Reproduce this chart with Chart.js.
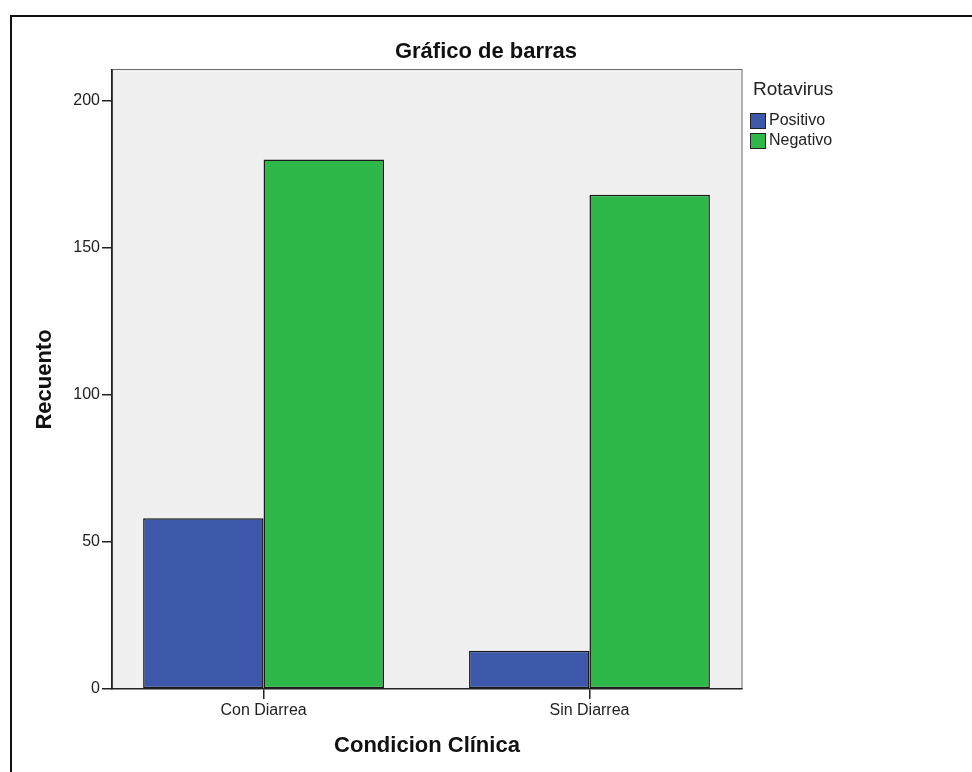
<!DOCTYPE html>
<html>
<head>
<meta charset="utf-8">
<script src="https://cdn.jsdelivr.net/npm/chart.js@4"></script>
<style>
  html, body { margin: 0; padding: 0; background: #fff; }
  canvas { display: block; }
</style>
</head>
<body>
<canvas id="chart" width="972" height="772"></canvas>
<script>
const categories = ['Con Diarrea', 'Sin Diarrea'];
const positivo = [58, 13];
const negativo = [180, 168];
const yTicks = [0, 50, 100, 150, 200];
const legendTitle = 'Rotavirus';

const FONT = "'Liberation Sans', Arial, sans-serif";
Chart.defaults.font.family = FONT;
Chart.defaults.color = '#222';

// grey plot area + the outer frame of the picture
const chartBackground = {
  id: 'chartBackground',
  beforeDraw(chart) {
    const {ctx, chartArea: a} = chart;
    ctx.save();
    ctx.fillStyle = '#fff';
    ctx.fillRect(0, 0, chart.width, chart.height);
    ctx.lineWidth = 2;
    ctx.strokeStyle = '#111';
    ctx.strokeRect(11, 16, chart.width + 20, chart.height + 20);
    ctx.fillStyle = '#f0f0f0';
    ctx.fillRect(a.left, a.top, a.width, a.height);
    ctx.strokeStyle = '#6a6a6a';
    ctx.lineWidth = 1;
    ctx.strokeRect(a.left + 0.5, a.top - 0.5, a.width - 0.5, a.height);
    ctx.restore();
  }
};

// legend in the right margin, like the SPSS one
const sideLegend = {
  id: 'sideLegend',
  afterDraw(chart) {
    const {ctx, chartArea: a} = chart;
    ctx.save();
    ctx.textBaseline = 'middle';
    ctx.fillStyle = '#222';
    ctx.font = `19px ${FONT}`;
    ctx.fillText(legendTitle, a.right + 11, a.top + 20);
    chart.data.datasets.forEach((ds, i) => {
      const y = a.top + 43 + i * 20;
      ctx.fillStyle = ds.backgroundColor;
      ctx.fillRect(a.right + 8, y, 16, 16);
      ctx.strokeStyle = '#222';
      ctx.lineWidth = 1;
      ctx.strokeRect(a.right + 8.5, y + 0.5, 15, 15);
      ctx.fillStyle = '#222';
      ctx.font = `16px ${FONT}`;
      ctx.fillText(ds.label, a.right + 27, y + 8);
    });
    ctx.restore();
  }
};

const data = {
  datasets: [{
    label: 'Positivo',
    data: categories.map((c, i) => ({x: i, y: positivo[i]})),
    backgroundColor: '#3d57aa',
    borderColor: '#1a1a1a',
    borderWidth: 1.5,
    borderSkipped: false,
    categoryPercentage: 0.739,
    barPercentage: 1
  }, {
    label: 'Negativo',
    data: categories.map((c, i) => ({x: i, y: negativo[i]})),
    backgroundColor: '#2eb84a',
    borderColor: '#1a1a1a',
    borderWidth: 1.5,
    borderSkipped: false,
    categoryPercentage: 0.739,
    barPercentage: 1
  }]
};

new Chart(document.getElementById('chart'), {
  type: 'bar',
  data: data,
  plugins: [chartBackground, sideLegend],
  options: {
    responsive: false,
    animation: false,
    layout: { padding: 0 },
    plugins: {
      legend: { display: false },
      tooltip: { enabled: false },
      title: {
        display: true,
        text: 'Gráfico de barras',
        color: '#111',
        font: { size: 22, weight: 'bold' },
        padding: { top: 39, bottom: 4.6 }
      }
    },
    scales: {
      x: {
        type: 'linear',
        min: -0.465,
        max: 1.468,
        offset: false,
        afterBuildTicks: s => { s.ticks = categories.map((c, i) => ({value: i})); },
        afterFit: s => { s.height = 83; },
        grid: { offset: false, drawOnChartArea: false, tickLength: 10, tickColor: '#222', lineWidth: 1.5 },
        border: { color: '#222', width: 1.5 },
        ticks: {
          callback: v => categories[v],
          font: { size: 16 },
          padding: 2,
          maxRotation: 0,
          autoSkip: false
        },
        title: {
          display: true,
          text: 'Condicion Clínica',
          color: '#111',
          font: { size: 22, weight: 'bold' },
          padding: { top: 0, bottom: 13 }
        }
      },
      y: {
        min: 0,
        max: 210.4,
        afterBuildTicks: s => { s.ticks = yTicks.map(v => ({value: v})); },
        afterFit: s => { s.width = 112; },
        grid: { drawOnChartArea: false, tickLength: 10, tickColor: '#222', lineWidth: 1.5 },
        border: { color: '#222', width: 1.5 },
        ticks: { font: { size: 16 }, padding: 2 },
        title: {
          display: true,
          text: 'Recuento',
          color: '#111',
          font: { size: 22, weight: 'bold' },
          padding: { top: 32, bottom: 0 }
        }
      },
      spacer: {
        type: 'linear',
        position: 'right',
        grid: { display: false },
        border: { display: false },
        ticks: { display: false },
        afterFit: s => { s.width = 230; }
      }
    }
  }
});
</script>
</body>
</html>
